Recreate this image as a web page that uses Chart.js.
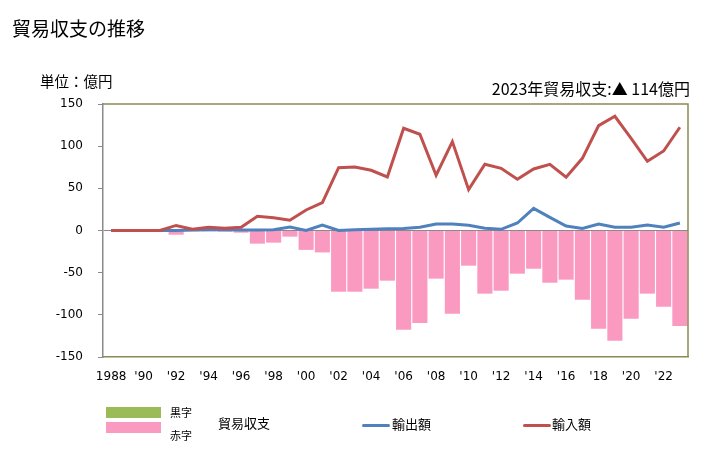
<!DOCTYPE html>
<html>
<head>
<meta charset="utf-8">
<script src="https://cdn.jsdelivr.net/npm/chart.js@4"></script>
<style>
  body { margin: 0; background: #fff; font-family: "Noto Sans CJK JP", sans-serif; }
  #wrap { position: relative; width: 728px; height: 451px; }
  #wrap canvas { position: absolute; left: 0; top: 0; }
  .txt { position: absolute; white-space: nowrap; color: #000; line-height: 1; }
  .sw { position: absolute; width: 55px; height: 11px; }
  .ln { position: absolute; width: 28px; height: 3px; border-radius: 2px; }
</style>
</head>
<body>
<div id="wrap">
  <canvas id="trade-chart" width="728" height="451"></canvas>
  <div class="txt" style="left:12px;top:18px;font-size:19px;">貿易収支の推移</div>
  <div class="txt" style="left:40px;top:74px;font-size:14.5px;">単位：億円</div>
  <div class="txt" style="right:38px;top:80px;font-size:16px;">2023年貿易収支:▲ 114億円</div>

  <div class="sw" style="left:106px;top:407px;background:#9bbb59;"></div>
  <div class="sw" style="left:106px;top:422px;background:#fb9ac0;"></div>
  <div class="txt" style="left:170px;top:407px;font-size:11px;">黒字</div>
  <div class="txt" style="left:170px;top:430px;font-size:11px;">赤字</div>
  <div class="txt" style="left:218px;top:416px;font-size:13px;">貿易収支</div>
  <div class="ln" style="left:362px;top:424px;background:#4f81bd;"></div>
  <div class="txt" style="left:392px;top:417px;font-size:13px;">輸出額</div>
  <div class="ln" style="left:523px;top:424px;background:#c0504d;"></div>
  <div class="txt" style="left:552px;top:417px;font-size:13px;">輸入額</div>
</div>
<script>
'use strict';

var years = [
    1988, 1989, 1990, 1991, 1992, 1993, 1994, 1995, 1996, 1997, 1998, 1999,
    2000, 2001, 2002, 2003, 2004, 2005, 2006, 2007, 2008, 2009, 2010, 2011,
    2012, 2013, 2014, 2015, 2016, 2017, 2018, 2019, 2020, 2021, 2022, 2023
];
var exportVals = [
    0, 0, 0, 0, 0, 0.5, 1, 1, 0.5, 0.5, 1, 4,
    0, 6.5, 0, 1, 1.5, 2, 2.3, 3.8, 7.7, 7.7, 6.2, 2.6,
    1.4, 8.9, 26.3, 15.6, 5.3, 2.3, 7.7, 3.8, 3.8, 6.5, 3.8, 8.9
];
var importVals = [
    0, 0, 0, 0, 6, 1.4, 3.8, 2.6, 3.8, 16.8, 15.2, 12.1,
    24.3, 33, 74.5, 75.3, 71.4, 63.5, 121.2, 114.1, 65.5, 105.4, 48.4, 78.5,
    73.7, 60.7, 73, 78.5, 63.1, 85.6, 124.3, 135.4, 109.3, 82.1, 94.3, 122.4
];
var balanceVals = [
    0, 0, 0, 0, -5, -1, -1, -1.5, -2.6, -15.6, -14.4, -7.3,
    -23, -26, -72.6, -72.6, -69, -59.5, -117.6, -109.7, -57.1, -98.6, -41.7, -74.9,
    -71.4, -51.2, -45.3, -61.9, -58.3, -82, -116.4, -130.7, -104.6, -74.9, -90.4, -113.3
];
var yTicks = [-150, -100, -50, 0, 50, 100, 150];

var olive = '#8c8a52';
var axisGrey = '#8a8a8a';

var tickLabel = function(year, i) {
    if (i === 0) return String(year);
    if (i % 2 !== 0) return '';
    return "'" + String(year).slice(2);
};

var frame = {
    id: 'frame',
    afterDatasetsDraw: function(chart) {
        var a = chart.chartArea;
        var c = chart.ctx;
        c.save();
        c.strokeStyle = olive;
        c.lineWidth = 1.5;
        c.beginPath();
        c.moveTo(a.left, a.top);
        c.lineTo(a.right, a.top);
        c.lineTo(a.right, a.bottom);
        c.stroke();
        c.restore();
    }
};

var ctx = document.getElementById('trade-chart').getContext('2d');
var tradeChart = new Chart(ctx, {
    data: {
        labels: years,
        datasets: [{
            type: 'line',
            label: '輸出額',
            data: exportVals,
            borderColor: '#4f81bd',
            borderWidth: 3,
            pointRadius: 0,
            tension: 0,
            order: 1
        }, {
            type: 'line',
            label: '輸入額',
            data: importVals,
            borderColor: '#c0504d',
            borderWidth: 3,
            pointRadius: 0,
            tension: 0,
            order: 0
        }, {
            type: 'bar',
            label: '貿易収支',
            data: balanceVals,
            backgroundColor: function(c) {
                var v = c.raw;
                return v >= 0 ? '#9bbb59' : '#fb9ac0';
            },
            barPercentage: 0.93,
            categoryPercentage: 1,
            order: 2
        }]
    },
    options: {
        responsive: false,
        animation: false,
        layout: { padding: { left: 0, right: 40, top: 104, bottom: 64 } },
        plugins: { legend: { display: false }, tooltip: { enabled: false } },
        scales: {
            x: {
                type: 'category',
                grid: { display: false, drawTicks: false },
                border: { display: true, color: olive, width: 1.5 },
                ticks: {
                    autoSkip: false,
                    maxRotation: 0,
                    padding: 13,
                    color: '#000',
                    font: { family: 'DejaVu Sans', size: 12 },
                    callback: function(val, i) { return tickLabel(years[i], i); }
                },
                afterFit: function(s) { s.height = 30; }
            },
            y: {
                min: -150,
                max: 150,
                afterBuildTicks: function(s) {
                    s.ticks = yTicks.map(function(v) { return { value: v }; });
                },
                grid: {
                    drawTicks: true,
                    tickLength: 5,
                    tickColor: axisGrey,
                    color: function(c) {
                        return c.tick && c.tick.value === 0 ? axisGrey : 'rgba(0,0,0,0)';
                    }
                },
                border: { display: true, color: axisGrey, width: 1.5 },
                ticks: {
                    padding: 15,
                    color: '#000',
                    font: { family: 'DejaVu Sans', size: 12 }
                },
                afterFit: function(s) { s.width = 103; }
            }
        }
    },
    plugins: [frame]
});
</script>
</body>
</html>
